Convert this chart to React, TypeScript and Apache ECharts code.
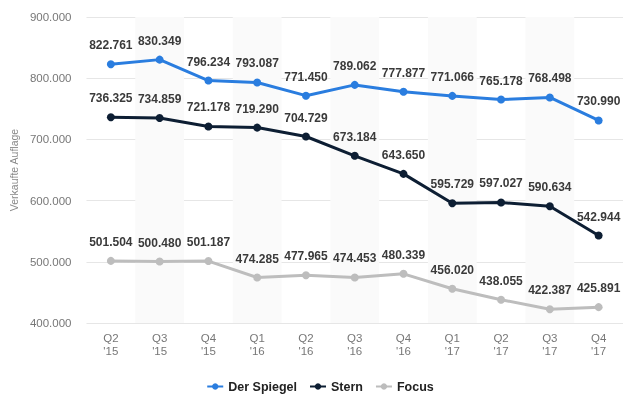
import React, { useEffect, useRef } from "react";
import * as echarts from "echarts";

const categories = ["Q2\n'15", "Q3\n'15", "Q4\n'15", "Q1\n'16", "Q2\n'16", "Q3\n'16", "Q4\n'16", "Q1\n'17", "Q2\n'17", "Q3\n'17", "Q4\n'17"];
const spiegel = [822761, 830349, 796234, 793087, 771450, 789062, 777877, 771066, 765178, 768498, 730990];
const stern = [736325, 734859, 721178, 719290, 704729, 673184, 643650, 595729, 597027, 590634, 542944];
const focus = [501504, 500480, 501187, 474285, 477965, 474453, 480339, 456020, 438055, 422387, 425891];
const yTicks = { min: 400000, max: 900000, interval: 100000 };

const fmt3 = (v: number) => {
  const th = Math.floor(v / 1000);
  const r = Math.round(v % 1000).toString().padStart(3, "0");
  return th + "." + r;
};

const FONT = "Liberation Sans";

export default function App() {
  const ref = useRef<HTMLDivElement>(null);
  useEffect(() => {
    const chart = echarts.init(ref.current!, null, { renderer: "svg" });
    const mk = (name: string, data: number[], color: string) => ({
      name,
      type: "line",
      data,
      symbol: "circle",
      symbolSize: 8,
      lineStyle: { width: 3, color },
      itemStyle: { color },
      label: {
        show: true,
        position: "top",
        distance: 9,
        formatter: (p: any) => fmt3(p.value),
        color: "#3a3a3a",
        fontSize: 12,
        fontWeight: "bold",
        fontFamily: FONT,
      },
    });
    chart.setOption({
      animation: false,
      textStyle: { fontFamily: FONT },
      grid: { left: 80, right: 17, top: 17, bottom: 73, containLabel: false },
      xAxis: {
        type: "category",
        data: categories,
        boundaryGap: true,
        axisLine: { show: false },
        axisTick: { show: false },
        axisLabel: { color: "#777", fontSize: 11.5, lineHeight: 13, margin: 8, fontFamily: FONT },
        splitArea: { show: true, areaStyle: { color: ["rgba(0,0,0,0)", "#fafafa"] } },
      },
      yAxis: {
        type: "value",
        min: yTicks.min,
        max: yTicks.max,
        interval: yTicks.interval,
        name: "Verkaufte Auflage",
        nameLocation: "middle",
        nameGap: 67,
        nameRotate: 90,
        nameTextStyle: { color: "#888", fontSize: 10.5, fontFamily: FONT },
        axisLine: { show: false },
        axisTick: { show: false },
        axisLabel: { color: "#777", fontSize: 11.5, margin: 15, formatter: (v: number) => fmt3(v), fontFamily: FONT },
        splitLine: { lineStyle: { color: "#e6e6e6", width: 1 } },
      },
      legend: {
        top: 375,
        left: "center",
        itemWidth: 16,
        itemHeight: 8,
        itemGap: 12,
        textStyle: { color: "#222", fontSize: 12.5, fontWeight: "bold", fontFamily: FONT },
        data: ["Der Spiegel", "Stern", "Focus"],
      },
      series: [
        mk("Der Spiegel", spiegel, "#2a7ddf"),
        mk("Stern", stern, "#0d1e33"),
        mk("Focus", focus, "#bdbdbd"),
      ],
    });
    return () => chart.dispose();
  }, []);
  return <div ref={ref} style={{ width: 640, height: 396, position: "fixed", top: 0, left: 0 }} />;
}
